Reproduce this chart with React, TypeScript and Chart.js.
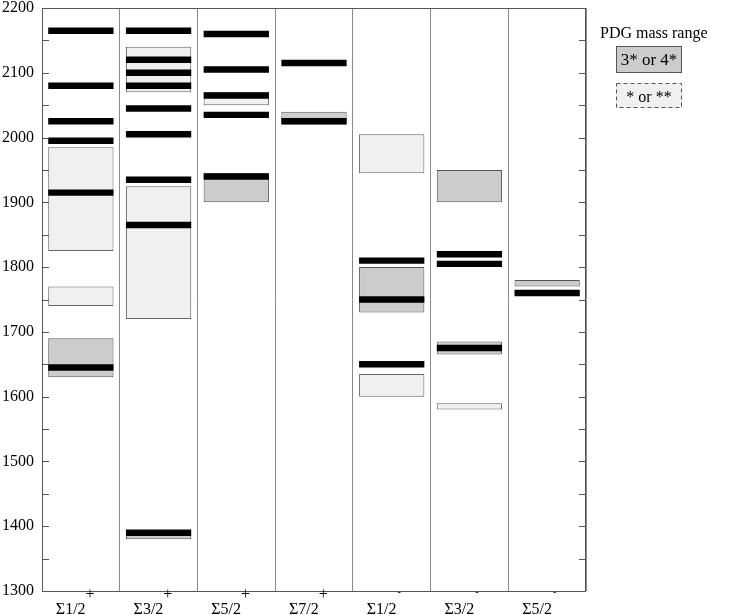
import React, { useEffect, useRef } from 'react';
import { Chart, registerables } from 'chart.js';

Chart.register(...registerables);

// ---- data ----
const categories = ['Σ1/2+', 'Σ3/2+', 'Σ5/2+', 'Σ7/2+', 'Σ1/2-', 'Σ3/2-', 'Σ5/2-'];
const labelBase = ['Σ1/2', 'Σ3/2', 'Σ5/2', 'Σ7/2', 'Σ1/2', 'Σ3/2', 'Σ5/2'];
const labelParity = ['+', '+', '+', '+', '-', '-', '-'];

// model masses (MeV), drawn as thin black bars
const modelSigma12p = [2165, 2080, 2025, 1995, 1915, 1645];
const modelSigma32p = [2165, 2120, 2100, 2080, 2045, 2005, 1935, 1865, 1390];
const modelSigma52p = [2160, 2105, 2065, 2035, 1940];
const modelSigma72p = [2115, 2025];
const modelSigma12m = [1810, 1750, 1650];
const modelSigma32m = [1820, 1805, 1675];
const modelSigma52m = [1760];
const modelMasses = [modelSigma12p, modelSigma32p, modelSigma52p, modelSigma72p, modelSigma12m, modelSigma32m, modelSigma52m];

// PDG mass ranges, 3* or 4*
const wellEstablished: number[][][] = [
  [[1630, 1690]],
  [[1380, 1392]],
  [[1900, 1945]],
  [[2020, 2040]],
  [[1730, 1800]],
  [[1900, 1950], [1665, 1685]],
  [[1770, 1780]],
];
// PDG mass ranges, * or **
const poorlyEstablished: number[][][] = [
  [[1825, 1985], [1740, 1770]],
  [[2070, 2140], [1720, 1925]],
  [[2050, 2070]],
  [],
  [[1945, 2005], [1600, 1635]],
  [[1580, 1590]],
  [],
];

const Y_MIN = 1300;
const Y_MAX = 2200;
const MINOR_STEP = 50;
const LABEL_STEP = 100;
const LINE_HALF = 5; // half thickness of a model level, MeV

const SERIF = '"Liberation Serif", "Times New Roman", serif';

const rangePoints = (groups: number[][][]) =>
  groups.flatMap((ranges, i) => ranges.map((r) => ({ x: categories[i], y: [r[0], r[1]] })));
const modelPoints = () =>
  modelMasses.flatMap((ms, i) => ms.map((m) => ({ x: categories[i], y: [m - LINE_HALF, m + LINE_HALF] })));

const framePlugin = {
  id: 'frameAndLabels',
  afterDraw(chart: any) {
    const { ctx, chartArea } = chart;
    const { left, right, top, bottom } = chartArea;
    const y = chart.scales.y;
    const x = chart.scales.x;
    ctx.save();
    // frame
    ctx.strokeStyle = '#555';
    ctx.lineWidth = 1;
    ctx.strokeRect(Math.round(left) + 0.5, Math.round(top) + 0.5, Math.round(right - left) - 1, Math.round(bottom - top));
    // inward tick marks on both sides
    ctx.beginPath();
    for (const t of y.ticks) {
      const py = Math.round(y.getPixelForValue(t.value)) + 0.5;
      ctx.moveTo(left, py);
      ctx.lineTo(left + 7, py);
      ctx.moveTo(right - 7, py);
      ctx.lineTo(right, py);
    }
    ctx.stroke();

    // category labels with superscript parity
    ctx.fillStyle = '#000';
    ctx.textAlign = 'left';
    ctx.textBaseline = 'alphabetic';
    for (let i = 0; i < categories.length; i++) {
      const cx = x.getPixelForValue(i);
      ctx.font = `16px ${SERIF}`;
      const bx = cx - 25;
      const base = labelBase[i];
      ctx.fillText(base, bx, bottom + 23);
      const w = ctx.measureText(base).width;
      if (labelParity[i] === '+') {
        ctx.font = `16px ${SERIF}`;
        ctx.fillText('+', bx + w, bottom + 8);
      } else {
        ctx.font = `10px ${SERIF}`;
        ctx.fillText('-', bx + w + 1, bottom + 4);
      }
    }

    // legend
    ctx.font = `16px ${SERIF}`;
    ctx.fillText('PDG mass range', 600, 38);
    // 3* or 4*
    ctx.fillStyle = '#cccccc';
    ctx.fillRect(616, 46, 66, 27);
    ctx.strokeStyle = '#555';
    ctx.strokeRect(616.5, 46.5, 65, 26);
    ctx.fillStyle = '#000';
    ctx.textAlign = 'center';
    ctx.font = `17px ${SERIF}`;
    ctx.fillText('3* or 4*', 649, 65);
    // * or **
    ctx.fillStyle = '#f0f0f0';
    ctx.fillRect(616, 83, 66, 25);
    ctx.setLineDash([4, 3]);
    ctx.strokeStyle = '#555';
    ctx.strokeRect(616.5, 83.5, 65, 24);
    ctx.setLineDash([]);
    ctx.fillStyle = '#000';
    ctx.font = `16px ${SERIF}`;
    ctx.fillText('* or **', 649, 102);
    ctx.restore();
  },
};

export default function App() {
  const ref = useRef<HTMLCanvasElement | null>(null);
  useEffect(() => {
    if (!ref.current) return;
    const chart = new Chart(ref.current, {
      type: 'bar',
      data: {
        labels: categories,
        datasets: [
          {
            label: '* or **',
            data: rangePoints(poorlyEstablished) as any,
            backgroundColor: '#f0f0f0',
            borderColor: '#666',
            borderWidth: 1,
            borderSkipped: false,
            order: 3,
          },
          {
            label: '3* or 4*',
            data: rangePoints(wellEstablished) as any,
            backgroundColor: '#cccccc',
            borderColor: '#555',
            borderWidth: 1,
            borderSkipped: false,
            order: 2,
          },
          {
            label: 'model',
            data: modelPoints() as any,
            backgroundColor: '#000',
            borderWidth: 0,
            order: 1,
          },
        ],
      },
      options: {
        responsive: false,
        animation: false,
        devicePixelRatio: 1,
        layout: { padding: { left: 0, top: 8, right: 150, bottom: 0 } },
        datasets: { bar: { grouped: false, categoryPercentage: 1, barPercentage: 0.84 } },
        plugins: { legend: { display: false }, tooltip: { enabled: false } },
        scales: {
          x: {
            type: 'category',
            offset: true,
            grid: { display: true, offset: true, drawTicks: false, color: '#8a8a8a', lineWidth: 1 },
            border: { display: false },
            ticks: { display: false },
            afterFit: (s: any) => {
              s.height = 24;
            },
          },
          y: {
            type: 'linear',
            min: Y_MIN,
            max: Y_MAX,
            grid: { display: false, drawTicks: false },
            border: { display: false },
            ticks: {
              stepSize: MINOR_STEP,
              autoSkip: false,
              padding: 8,
              color: '#000',
              font: { family: SERIF, size: 16, lineHeight: 1 },
              callback: (v: any) => (Number(v) % LABEL_STEP === 0 ? String(v) : ''),
            },
            afterFit: (s: any) => {
              s.width = 42;
              s.paddingTop = 0;
              s.paddingBottom = 0;
            },
          },
        },
      } as any,
      plugins: [framePlugin],
    });
    return () => chart.destroy();
  }, []);
  return (
    <div style={{ position: 'absolute', left: 0, top: 0, width: 736, height: 615, background: '#fff' }}>
      <canvas ref={ref} width={736} height={615} style={{ display: 'block' }} />
    </div>
  );
}
